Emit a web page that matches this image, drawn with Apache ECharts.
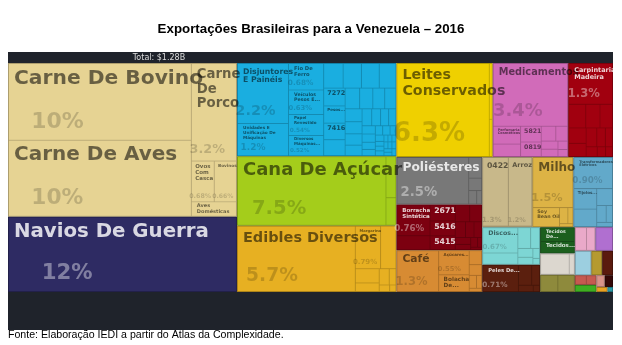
<!DOCTYPE html>
<html><head><meta charset="utf-8">
<script src="https://cdn.jsdelivr.net/npm/echarts@6/dist/echarts.min.js"></script>
<style>html,body{margin:0;padding:0;background:#fff}#c{width:622px;height:345px}</style>
</head><body><div id="c"></div>
<script>
// ---------- DATA (share of total exports, %) ----------
const chartTitle = 'Exportações Brasileiras para a Venezuela – 2016';
const totalLabel = 'Total: $1.28B';
const sourceNote = 'Fonte: Elaboração IEDI a partir do Atlas da Complexidade.';

const produtosAnimais = [['Carne De Bovino', 10.2], ['Carne De Aves', 10.1], ['Carne De Porco', 3.2], ['Ovos Com Casca', 0.68], ['Bovinos', 0.66], ['Aves Domésticas', 0.47]];
const transporte = [['Navios De Guerra', 12.4]];
const maquinas = [['Disjuntores E Painéis', 2.24], ['Unidades E Unificação De Máquinas', 1.2], ['Fio De Ferro', 0.68], ['Veículos Pesos E...', 0.63], ['Papel Revestido', 0.54], ['Diversos Máquinas...', 0.52],
  ['', 0.35], ['', 0.33], ['', 0.32], ['', 0.30], ['7272', 0.28], ['Pesos...', 0.27], ['7416', 0.26], ['', 0.25], ['', 0.22], ['', 0.2], ['', 0.18], ['', 0.17], ['', 0.16], ['', 0.15], ['', 0.14], ['', 0.13], ['', 0.12], ['', 0.11], ['', 0.1], ['', 0.09], ['', 0.08], ['', 0.08], ['', 0.07], ['', 0.06], ['', 0.05], ['', 0.05], ['', 0.04], ['', 0.04], ['', 0.03], ['', 0.03], ['', 0.03], ['', 0.02], ['', 0.02], ['', 0.02], ['', 0.02], ['', 0.02], ['', 0.02], ['', 0.02], ['', 0.02], ['', 0.02]];
const canaDeAcucar = [['Cana De Açúcar', 7.47], ['', 0.3], ['', 0.2]];
const alimenticios = [['Edibles Diversos', 5.66], ['Margarina', 0.79], ['Office Paper Containers', 0.48], ['', 0.25], ['', 0.15], ['', 0.12], ['', 0.08], ['', 0.05], ['', 0.03]];
const laticinios = [['Leites Conservados', 6.31], ['', 0.12], ['', 0.08]];
const quimicos = [['Medicamentos', 3.44], ['Perfumaria Cosméticos', 0.36], ['', 0.25], ['5821', 0.24], ['0819', 0.22], ['', 0.16], ['', 0.13], ['', 0.1], ['', 0.09], ['', 0.06], ['', 0.05]];
const madeira = [['Carpintaria Madeira', 1.33], ['', 0.3], ['', 0.25], ['', 0.22], ['', 0.2], ['', 0.17], ['', 0.15], ['', 0.12], ['', 0.1], ['', 0.08], ['', 0.06], ['', 0.05]];
const plasticos = [['Poliésteres', 2.48], ['', 0.2], ['', 0.12], ['', 0.08], ['', 0.05]];
const texteis = [['Borracha Sintética', 0.76], ['', 0.34], ['2671', 0.3], ['5416', 0.28], ['5415', 0.26], ['', 0.18], ['', 0.15], ['', 0.12], ['', 0.1], ['', 0.09], ['', 0.08], ['', 0.06], ['', 0.05], ['', 0.03], ['', 0.02]];
const cafe = [['Café', 1.27], ['Açúcares...', 0.55], ['Bolacha De...', 0.38], ['', 0.13], ['', 0.1], ['', 0.07], ['', 0.05], ['', 0.03]];
const arroz = [['0422', 1.31], ['Arroz', 1.2], ['', 0.02]];
const milho = [['Milho', 1.5], ['Soy Bean Oil', 0.38], ['', 0.1], ['', 0.06], ['', 0.03]];
const eletricos = [['Transformadores Elétricos', 0.9], ['Tijolos...', 0.35], ['Grandes...', 0.3], ['', 0.2], ['', 0.12], ['', 0.08], ['', 0.05]];
const eletronicos = [['Discos...', 0.67], ['Microcircuitos...', 0.3], ['', 0.2], ['', 0.14], ['', 0.1], ['', 0.08], ['', 0.05], ['', 0.03]];
const couros = [['Peles De...', 0.71], ['', 0.2], ['', 0.12], ['', 0.07], ['', 0.03]];
const tecidos = [['Tecidos De...', 0.36], ['Tecidos...', 0.3]];
const outrosA = [['', 0.45], ['', 0.08]];
const outrosB = [['', 0.22], ['', 0.21]];
const outrosC = [['', 0.2], ['', 0.15]];
const outrosD = [['', 0.3]];
const outrosE = [['', 0.29]];
const outrosF = [['', 0.19]];
const outrosG = [['', 0.19]];
const outrosH = [['', 0.08], ['', 0.07]];
const outrosI = [['', 0.11]];
const outrosJ = [['', 0.07]];
const outrosK = [['', 0.07]];
const outrosL = [['', 0.04]];
const outrosM = [['', 0.02]];

const groups = [produtosAnimais, transporte, maquinas, canaDeAcucar, alimenticios, laticinios, quimicos, madeira, plasticos, texteis, cafe, arroz, milho, eletricos, eletronicos, couros, tecidos, outrosA, outrosB, outrosC, outrosD, outrosE, outrosF, outrosG, outrosH, outrosI, outrosJ, outrosK, outrosL, outrosM];
const groupNames = ['Produtos Animais', 'Transporte', 'Máquinas', 'Cana De Açúcar', 'Gêneros Alimentícios', 'Laticínios', 'Produtos Químicos', 'Madeira', 'Plásticos', 'Borracha E Têxteis', 'Café', 'Arroz', 'Milho', 'Materiais Elétricos', 'Eletrônicos', 'Couros', 'Tecidos', 'Outros A', 'Outros B', 'Outros C', 'Outros D', 'Outros E', 'Outros F', 'Outros G', 'Outros H', 'Outros I', 'Outros J', 'Outros K', 'Outros L', 'Outros M'];

// ---------- STYLES ----------
const groupColors = ['#e6d393', '#2e2b63', '#1aaee0', '#a4cd1b', '#e7b022', '#efd000', '#d16bb9', '#a1000f', '#787878', '#7c0010', '#d78b33', '#c8b88a', '#ddb345', '#62a9ca', '#7dd6d4', '#5b1f0e', '#1c5f1e', '#dcd7cf', '#8e8a3c', '#eaa9c9', '#b06fd0', '#9ccfe0', '#5a1a0e', '#b59a30', '#c65a50', '#3fae22', '#350808', '#d9938a', '#e9a224', '#2a9aa8'];
const FONT = '"DejaVu Sans"';

function hexRgb(h) { const n = parseInt(h.slice(1), 16); return [(n >> 16) & 255, (n >> 8) & 255, n & 255]; }
function shade(h, k) { const c = hexRgb(h).map(v => Math.round(v * (1 - k))); return 'rgb(' + c.join(',') + ')'; }
function lum(h) { const c = hexRgb(h); return 0.299 * c[0] + 0.587 * c[1] + 0.114 * c[2]; }
function fmtPct(v) { if (v >= 10) return Math.round(v) + '%'; if (v >= 1) return v.toFixed(1) + '%'; return v.toFixed(2) + '%'; }

const mctx = document.createElement('canvas').getContext('2d');
function tw(text, size) { mctx.font = 'bold ' + size + 'px ' + FONT; return mctx.measureText(text).width; }
const K = 0.78;

function fitName(name, w, h, hasPct) {
  const words = name.split(' ');
  const padL = Math.max(1, Math.min(5, 0.15 * w));
  const W = w - 2 * padL;
  for (let s = 24; s >= 3.5; s -= 0.25) {
    const lines = []; let cur = ''; let ok = true;
    for (const wd of words) {
      if (tw(wd, s) * K > W) { ok = false; break; }
      const t = cur ? cur + ' ' + wd : wd;
      if (tw(t, s) * K <= W) cur = t; else { lines.push(cur); cur = wd; }
    }
    if (!ok) continue;
    lines.push(cur);
    const L = lines.length;
    const good = L === 1 ? s <= (hasPct ? 0.27 : 0.7) * h : L * s * 1.1 <= (hasPct ? 0.46 : 0.85) * h;
    if (good) return { s, lines, padL };
  }
  return null;
}

function buildLabel(info, w, h) {
  if (!info.name) return null;
  const dark = lum(info.color) < 128;
  const nameCol = dark ? 'rgba(255,255,255,0.82)' : 'rgba(0,0,0,0.55)';
  const pctCol = dark ? 'rgba(255,255,255,0.4)' : 'rgba(0,0,0,0.18)';
  const hasPct = info.value >= 0.5;
  const fit = fitName(info.name, w, h, hasPct);
  if (!fit) return null;
  const padT = Math.max(1, Math.min(3.5, 0.06 * h));
  const nameH = fit.lines.length * fit.s * 1.1;
  const parts = fit.lines.map(l => '{n|' + l + '}');
  let posX = fit.padL;
  const rich = { n: { fontFamily: FONT, fontWeight: 'bold', fontSize: fit.s, lineHeight: fit.s * 1.1, color: nameCol } };
  if (hasPct) {
    const mm = Math.min(w, h);
    let sp = Math.min(26, 0.29 * mm);
    const m = 0.13 * mm;
    let G = h - m - 0.865 * sp - padT - nameH;
    if (G < 0) { sp = Math.min(sp, (h - m - padT - nameH) / 0.865); G = 0; }
    if (sp >= 3.5) {
      const txt = fmtPct(info.value);
      const tW = tw(txt, sp);
      const xRel = 0.22 * w - 0.34 * tW;
      posX = Math.min(fit.padL, xRel);
      rich.n.padding = [0, 0, 0, fit.padL - posX];
      rich.g = { fontSize: 1, lineHeight: G };
      rich.p = { fontFamily: FONT, fontWeight: 'bold', fontSize: sp, lineHeight: sp, color: pctCol, padding: [0, 0, 0, xRel - posX] };
      if (G > 0.5) parts.push('{g| }');
      parts.push('{p|' + txt + '}');
    }
  }
  return { show: true, position: [posX, padT], padding: 0, overflow: 'none', formatter: parts.join('\n'), rich };
}

// ---------- BUILD ----------
const leafInfo = {}, itemById = {};
const seriesData = groups.map((g, gi) => {
  const col = groupColors[gi];
  return {
    name: groupNames[gi], id: 'g' + gi,
    itemStyle: { color: col, borderColor: shade(col, 0.35), borderWidth: 0.5, gapWidth: 0 },
    children: g.map(([name, value], li) => {
      const id = 'g' + gi + '_' + li;
      leafInfo[id] = { name, value, color: col };
      const item = { name, value, id, itemStyle: { color: col, borderColor: shade(col, 0.15), borderWidth: 0.5 }, label: { show: false } };
      itemById[id] = item;
      return item;
    })
  };
});

const option = {
  animation: false,
  backgroundColor: '#ffffff',
  title: { text: chartTitle, left: 'center', top: 18, textStyle: { fontFamily: '"Liberation Sans", Arial, sans-serif', fontWeight: 'bold', fontSize: 13.3, color: '#000' } },
  tooltip: { show: false },
  graphic: [
    { type: 'rect', left: 8, top: 52, z: -10, shape: { width: 605, height: 278 }, style: { fill: '#1f232b' } },
    { type: 'text', x: 159, y: 57.5, z: 10, style: { text: totalLabel, fill: '#dddddd', font: '8px "DejaVu Sans"', align: 'center', verticalAlign: 'middle' } },
    { type: 'text', x: 8, y: 335, z: 10, style: { text: sourceNote, fill: '#000000', font: '10.6px "Liberation Sans", Arial', align: 'left', verticalAlign: 'middle' } }
  ],
  series: [{
    type: 'treemap', left: 8, top: 63, width: 605, height: 229,
    roam: false, nodeClick: false, breadcrumb: { show: false },
    squareRatio: 0.5 * (1 + Math.sqrt(5)), sort: 'desc', visibleMin: 0,
    itemStyle: { borderWidth: 0, gapWidth: 0 },
    upperLabel: { show: false },
    label: { show: false },
    emphasis: { disabled: true },
    data: seriesData
  }]
};

const chart = echarts.init(document.getElementById('c'), null, { renderer: 'canvas' });
chart.setOption(option);
try {
  const sd = chart.getModel().getSeriesByIndex(0).getData();
  sd.tree.eachNode(function (node) {
    if (node.children && node.children.length) return;
    const id = sd.getId(node.dataIndex);
    const info = leafInfo[id];
    if (!info) return;
    const lay = node.getLayout();
    if (!lay) return;
    const bw = 0.5;
    const lbl = buildLabel(info, lay.width - 2 * bw, lay.height - 2 * bw);
    if (lbl) itemById[id].label = lbl;
  });
  chart.setOption(option, true);
} catch (e) { console.error(e); }
</script>
</body></html>
